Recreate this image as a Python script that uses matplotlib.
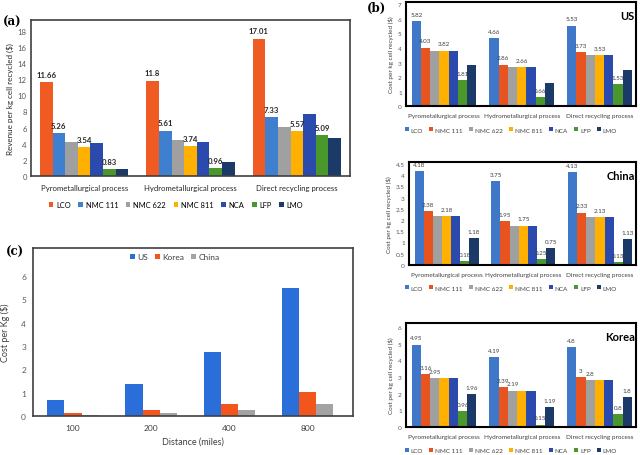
import numpy as np
import matplotlib
matplotlib.use("Agg")
import matplotlib.pyplot as plt

plt.rcParams["font.family"] = ["Lato", "DejaVu Sans"]

# ---------------------------------------------------------------- data
chems = ["LCO", "NMC 111", "NMC 622", "NMC 811", "NCA", "LFP", "LMO"]
processes = ["Pyrometallurgical process", "Hydrometallurgical process",
             "Direct recycling process"]

# (a) revenue per kg cell recycled ($), one list per chemistry (pyro, hydro, direct)
rev_lco = [11.66, 11.8, 17.01]
rev_nmc111 = [5.26, 5.61, 7.33]
rev_nmc622 = [4.25, 4.48, 6.05]
rev_nmc811 = [3.54, 3.74, 5.57]
rev_nca = [4.05, 4.2, 7.72]
rev_lfp = [0.83, 0.96, 5.09]
rev_lmo = [0.85, 1.75, 4.65]
rev_labelled = ["LCO", "NMC 111", "NMC 811", "LFP"]

# (b) cost per kg cell recycled ($)
us_lco = [5.82, 4.66, 5.53]
us_nmc111 = [4.03, 2.86, 3.73]
us_nmc622 = [3.82, 2.66, 3.53]
us_nmc811 = [3.82, 2.66, 3.53]
us_nca = [3.82, 2.66, 3.53]
us_lfp = [1.81, 0.66, 1.53]
us_lmo = [2.8, 1.63, 2.5]

cn_lco = [4.18, 3.75, 4.13]
cn_nmc111 = [2.38, 1.95, 2.33]
cn_nmc622 = [2.18, 1.75, 2.13]
cn_nmc811 = [2.18, 1.75, 2.13]
cn_nca = [2.18, 1.75, 2.13]
cn_lfp = [0.18, 0.25, 0.13]
cn_lmo = [1.18, 0.75, 1.13]

kr_lco = [4.95, 4.19, 4.8]
kr_nmc111 = [3.16, 2.39, 3.0]
kr_nmc622 = [2.95, 2.19, 2.8]
kr_nmc811 = [2.95, 2.19, 2.8]
kr_nca = [2.95, 2.19, 2.8]
kr_lfp = [0.96, 0.15, 0.8]
kr_lmo = [1.96, 1.19, 1.8]

# (c) transport cost per kg vs distance
distances = ["100", "200", "400", "800"]
countries = ["US", "Korea", "China"]
transport_us = [0.69, 1.37, 2.74, 5.48]
transport_kr = [0.13, 0.26, 0.52, 1.04]
transport_cn = [0.06, 0.12, 0.25, 0.5]

# ---------------------------------------------------------------- style
COL_A = ["#F05A23", "#3F7FD0", "#A0A0A0", "#FFB000", "#2B4AAE", "#4A972B", "#1C3A68"]
COL_B = ["#3F78C8", "#E8541F", "#A0A0A0", "#FFB000", "#2B4AAE", "#4A972B", "#1C3A68"]
COL_C = ["#2A6FD9", "#F2561D", "#A3A3A3"]

W, H = 640, 456
fig = plt.figure(figsize=(W / 100, H / 100), dpi=100)


def box(l, t, r, b):
    # pixel box (left, top, right, bottom) -> figure fraction rect
    return [l / W, 1 - b / H, (r - l) / W, (b - t) / H]


def draw_groups(ax, names, data, colors, width, labelled, fs, bold, offset):
    x = np.arange(len(data[0]))
    n = len(data)
    for i, (name, vals) in enumerate(zip(names, data)):
        xs = x + (i - (n - 1) / 2) * width
        bars = ax.bar(xs, vals, width, color=colors[i], label=name, linewidth=0)
        if name in labelled:
            for b, v in zip(bars, vals):
                ax.annotate(f"{v:g}", (b.get_x() + b.get_width() / 2, v),
                            xytext=(0, offset), textcoords="offset points",
                            ha="center", va="bottom", fontsize=fs,
                            fontweight="bold" if bold else "normal",
                            color="#262626" if bold else "#404040")


# ---------------------------------------------------------------- (a)
ax = fig.add_axes(box(31, 21, 350, 177))
rev = [rev_lco, rev_nmc111, rev_nmc622, rev_nmc811, rev_nca, rev_lfp, rev_lmo]
draw_groups(ax, chems, rev, COL_A, 0.119, rev_labelled, 5.6, True, 3)
ax.set_xlim(-0.5, 2.5)
ax.set_ylim(0, 19.3)
ax.set_yticks(np.arange(0, 19, 2))
ax.set_xticks(range(3))
ax.set_xticklabels(processes, fontsize=5.6, color="#262626")
ax.tick_params(axis="y", labelsize=5.6, labelcolor="#595959", length=0, pad=3)
ax.tick_params(axis="x", length=0, pad=6)
ax.set_ylabel("Revenue per kg cell recycled ($)", fontsize=5.8, color="#262626", labelpad=3)
for s in ax.spines.values():
    s.set_color("#404040")
    s.set_linewidth(1.2)
fig.legend(*ax.get_legend_handles_labels(), loc="center", ncol=7,
           bbox_to_anchor=(176 / W, 1 - 206 / H), frameon=False, fontsize=5.4,
           handlelength=0.6, handleheight=0.6, handletextpad=0.4, columnspacing=1.0)
fig.text(12 / W, 1 - 22 / H, "(a)", family="DejaVu Serif", fontweight="bold",
         fontsize=8.5, ha="center", va="center")

# ---------------------------------------------------------------- (b)
panels = [
    ("US", box(406, 3, 636, 107.3), 7.15, 7, 1,
     [us_lco, us_nmc111, us_nmc622, us_nmc811, us_nca, us_lfp, us_lmo],
     ["LCO", "NMC 111", "NMC 811", "LFP"], 131),
    ("China", box(409, 163.3, 636, 265.7), 4.58, 4.5, 0.5,
     [cn_lco, cn_nmc111, cn_nmc622, cn_nmc811, cn_nca, cn_lfp, cn_lmo],
     ["LCO", "NMC 111", "NMC 811", "LFP", "LMO"], 289),
    ("Korea", box(406, 324, 636, 428), 6.25, 6, 1,
     [kr_lco, kr_nmc111, kr_nmc622, kr_nmc811, kr_nca, kr_lfp, kr_lmo],
     ["LCO", "NMC 111", "NMC 622", "LFP", "LMO"], 451.7),
]
for title, rect, ytop, ymax, step, data, labelled, ylegend in panels:
    ax = fig.add_axes(rect)
    draw_groups(ax, chems, data, COL_B, 0.119, labelled, 4.5, False, 3)
    ticks = np.arange(0, ymax + 0.01, step)
    ax.set_xlim(-0.49, 2.47)
    ax.set_ylim(0, ytop)
    ax.set_yticks(ticks)
    ax.set_yticklabels([f"{t:g}" for t in ticks])
    ax.set_xticks(range(3))
    ax.set_xticklabels(processes, fontsize=4.6, color="#404040")
    ax.tick_params(axis="y", labelsize=4.6, labelcolor="#595959", length=0, pad=3)
    ax.tick_params(axis="x", length=0, pad=5)
    ax.set_ylabel("Cost per kg cell recycled ($)", fontsize=4.6, color="#404040", labelpad=3)
    for s in ax.spines.values():
        s.set_color("black")
        s.set_linewidth(1.5)
    ax.text(0.995, 0.92, title, transform=ax.transAxes, ha="right", va="top",
            fontsize=8, fontweight="bold")
    fig.legend(*ax.get_legend_handles_labels(), loc="center", ncol=7,
               bbox_to_anchor=(511 / W, 1 - ylegend / H), frameon=False, fontsize=4.6,
               labelcolor="#404040", handlelength=0.6, handleheight=0.6,
               handletextpad=0.3, columnspacing=1.0)
fig.text(377 / W, 1 - 8 / H, "(b)", family="DejaVu Serif", fontweight="bold",
         fontsize=8.5, ha="center", va="center")

# ---------------------------------------------------------------- (c)
ax = fig.add_axes(box(33, 249, 353, 417))
draw_groups(ax, countries, [transport_us, transport_kr, transport_cn], COL_C, 0.22,
            [], 5, False, 3)
ax.set_xlim(-0.51, 3.58)
ax.set_ylim(0, 7.2)
ax.set_yticks(range(7))
ax.set_xticks(range(4))
ax.set_xticklabels(distances, fontsize=6, color="#404040")
ax.tick_params(axis="y", labelsize=6, labelcolor="#595959", length=0, pad=5)
ax.tick_params(axis="x", length=0, pad=6)
ax.set_ylabel("Cost per Kg ($)", fontsize=6.5, color="#404040", labelpad=8)
ax.set_xlabel("Distance (miles)", fontsize=6.5, color="#404040", labelpad=4)
for s in ax.spines.values():
    s.set_color("#404040")
    s.set_linewidth(1.2)
fig.legend(*ax.get_legend_handles_labels(), loc="center", ncol=3,
           bbox_to_anchor=(175 / W, 1 - 258 / H), frameon=False, fontsize=6,
           labelcolor="#404040", handlelength=0.6, handleheight=0.6,
           handletextpad=0.3, columnspacing=0.8)
fig.text(15 / W, 1 - 252 / H, "(c)", family="DejaVu Serif", fontweight="bold",
         fontsize=8.5, ha="center", va="center")

fig.savefig("out.png", dpi=100)
